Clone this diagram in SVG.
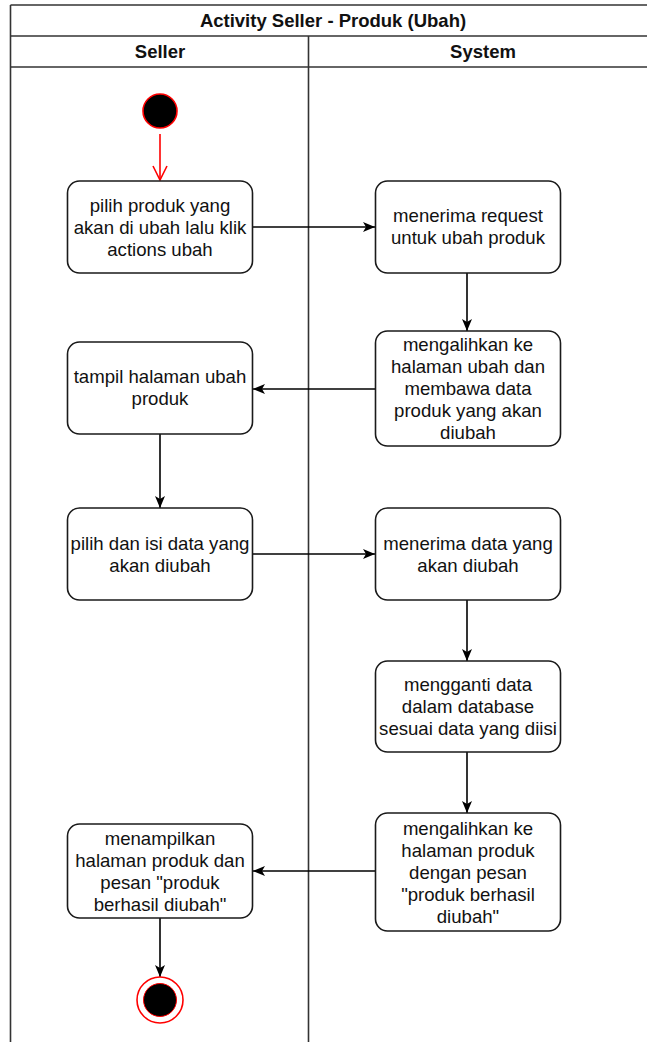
<svg xmlns="http://www.w3.org/2000/svg" width="647" height="1042" viewBox="0 0 647 1042">
  <style>
    .frame { fill: none; stroke: #333; stroke-width: 1.6; }
    .act { fill: #fff; stroke: #1a1a1a; stroke-width: 1.6; }
    .lbl { font-family: "Liberation Sans", Arial, sans-serif; font-size: 18.6px; fill: #111; text-anchor: middle; }
    .hdr { font-family: "Liberation Sans", Arial, sans-serif; font-size: 18.5px; font-weight: bold; fill: #111; text-anchor: middle; }
    .flow { fill: none; stroke: #000; stroke-width: 1.6; }
    .start { fill: none; stroke: #ff0000; stroke-width: 1.6; }
  </style>
  <defs>
    <marker id="arrow" viewBox="0 0 12 10" refX="12" refY="5" markerWidth="12" markerHeight="10" markerUnits="userSpaceOnUse" orient="auto">
      <path d="M0,0 L12,5 L0,10 L3,5 Z" fill="#000"/>
    </marker>
    <marker id="openArrow" viewBox="0 0 16 16" refX="15" refY="8" markerWidth="16" markerHeight="16" markerUnits="userSpaceOnUse" orient="auto">
      <path d="M1,1 L15,8 L1,15" fill="none" stroke="#ff0000" stroke-width="1.6"/>
    </marker>
  </defs>

  <rect width="647" height="1042" fill="#fff"/>

  <!-- swimlane frame -->
  <g id="pool">
    <line class="frame" x1="10.5" y1="5" x2="660" y2="5"/>
    <line class="frame" x1="10.5" y1="36" x2="660" y2="36"/>
    <line class="frame" x1="10.5" y1="67" x2="660" y2="67"/>
    <line class="frame" x1="10.5" y1="5" x2="10.5" y2="1042"/>
    <line class="frame" x1="308.5" y1="36" x2="308.5" y2="1042"/>
    <text class="hdr" x="333" y="26.5">Activity Seller - Produk (Ubah)</text>
    <text class="hdr" x="160" y="57.5">Seller</text>
    <text class="hdr" x="483" y="57.5">System</text>
  </g>

  <!-- connectors -->
  <g id="connectors">
    <line class="start" x1="160" y1="134" x2="160" y2="180" marker-end="url(#openArrow)"/>
    <line class="flow" x1="253" y1="227" x2="375" y2="227" marker-end="url(#arrow)"/>
    <line class="flow" x1="467" y1="273" x2="467" y2="331" marker-end="url(#arrow)"/>
    <line class="flow" x1="375" y1="389" x2="253" y2="389" marker-end="url(#arrow)"/>
    <line class="flow" x1="160" y1="434" x2="160" y2="508" marker-end="url(#arrow)"/>
    <line class="flow" x1="253" y1="554" x2="375" y2="554" marker-end="url(#arrow)"/>
    <line class="flow" x1="467" y1="600" x2="467" y2="661" marker-end="url(#arrow)"/>
    <line class="flow" x1="467" y1="752" x2="467" y2="813" marker-end="url(#arrow)"/>
    <line class="flow" x1="375" y1="871" x2="253" y2="871" marker-end="url(#arrow)"/>
    <line class="flow" x1="160" y1="918" x2="160" y2="977" marker-end="url(#arrow)"/>
  </g>

  <!-- initial node -->
  <g id="initial">
    <circle cx="160" cy="111" r="17" fill="#000" stroke="#ff0000" stroke-width="1.6"/>
  </g>

  <g id="pilih-produk">
    <rect class="act" x="67.5" y="181" width="185" height="92" rx="12"/>
    <text class="lbl" x="160" y="211.5">pilih produk yang</text>
    <text class="lbl" x="160" y="233.5">akan di ubah lalu klik</text>
    <text class="lbl" x="160" y="255.5">actions ubah</text>
  </g>

  <g id="terima-request">
    <rect class="act" x="375.5" y="181" width="185" height="92" rx="12"/>
    <text class="lbl" x="468" y="222">menerima request</text>
    <text class="lbl" x="468" y="244">untuk ubah produk</text>
  </g>

  <g id="alihkan-ubah">
    <rect class="act" x="375.5" y="331" width="185" height="115" rx="12"/>
    <text class="lbl" x="468" y="351">mengalihkan ke</text>
    <text class="lbl" x="468" y="373">halaman ubah dan</text>
    <text class="lbl" x="468" y="395">membawa data</text>
    <text class="lbl" x="468" y="417">produk yang akan</text>
    <text class="lbl" x="468" y="439">diubah</text>
  </g>

  <g id="tampil-ubah">
    <rect class="act" x="67.5" y="342" width="185" height="92" rx="12"/>
    <text class="lbl" x="160" y="383">tampil halaman ubah</text>
    <text class="lbl" x="160" y="405">produk</text>
  </g>

  <g id="isi-data">
    <rect class="act" x="67.5" y="508" width="185" height="92" rx="12"/>
    <text class="lbl" x="160" y="549.5">pilih dan isi data yang</text>
    <text class="lbl" x="160" y="571.5">akan diubah</text>
  </g>

  <g id="terima-data">
    <rect class="act" x="375.5" y="508" width="185" height="92" rx="12"/>
    <text class="lbl" x="468" y="549.5">menerima data yang</text>
    <text class="lbl" x="468" y="571.5">akan diubah</text>
  </g>

  <g id="ganti-data">
    <rect class="act" x="375.5" y="661" width="185" height="91" rx="12"/>
    <text class="lbl" x="468" y="690.5">mengganti data</text>
    <text class="lbl" x="468" y="712.5">dalam database</text>
    <text class="lbl" x="468" y="734.5">sesuai data yang diisi</text>
  </g>

  <g id="alihkan-produk">
    <rect class="act" x="375.5" y="813" width="185" height="118" rx="12"/>
    <text class="lbl" x="468" y="835">mengalihkan ke</text>
    <text class="lbl" x="468" y="857">halaman produk</text>
    <text class="lbl" x="468" y="879">dengan pesan</text>
    <text class="lbl" x="468" y="901">"produk berhasil</text>
    <text class="lbl" x="468" y="923">diubah"</text>
  </g>

  <g id="tampil-produk">
    <rect class="act" x="67.5" y="824" width="185" height="94" rx="12"/>
    <text class="lbl" x="160" y="845">menampilkan</text>
    <text class="lbl" x="160" y="867">halaman produk dan</text>
    <text class="lbl" x="160" y="889">pesan "produk</text>
    <text class="lbl" x="160" y="911">berhasil diubah"</text>
  </g>

  <!-- final node -->
  <g id="final">
    <circle cx="160" cy="1000" r="23" fill="#fff" stroke="#ff0000" stroke-width="1.6"/>
    <circle cx="160" cy="1000" r="16.5" fill="#000" stroke="#ff0000" stroke-width="1"/>
  </g>
</svg>
